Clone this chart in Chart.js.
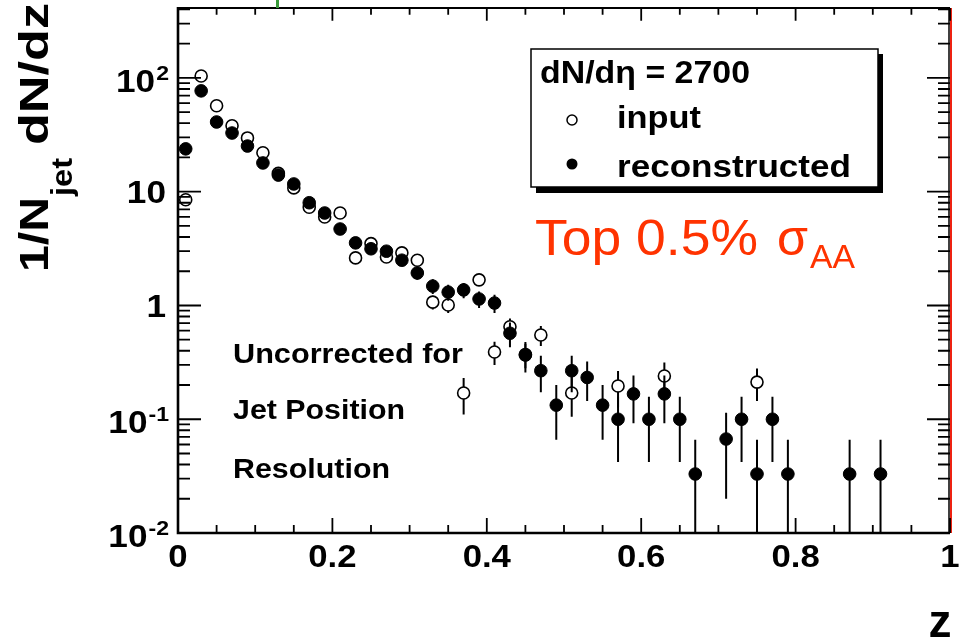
<!DOCTYPE html>
<html>
<head>
<meta charset="utf-8">
<script src="https://cdn.jsdelivr.net/npm/chart.js@4.4.1/dist/chart.umd.min.js"></script>
<style>
  html, body { margin: 0; padding: 0; background: #fff; }
  canvas { display: block; }
</style>
</head>
<body>
<canvas id="myChart" width="963" height="638"></canvas>
<script>
// bin centres in z
const zBins = [0.01, 0.03, 0.05, 0.07, 0.09, 0.11, 0.13, 0.15, 0.17, 0.19,
               0.21, 0.23, 0.25, 0.27, 0.29, 0.31, 0.33, 0.35, 0.37, 0.39,
               0.41, 0.43, 0.45, 0.47, 0.49, 0.51, 0.53, 0.55, 0.57, 0.59,
               0.61, 0.63, 0.65, 0.67, 0.69, 0.71, 0.73, 0.75, 0.77, 0.79,
               0.81, 0.83, 0.85, 0.87, 0.89, 0.91];

// input (open circles)
const inputVals = [8.5, 104, 57, 38, 29.7, 22, 14.5, 10.8, 7.3, 6.0,
                   6.5, 2.62, 3.5, 2.67, 2.9, 2.5, 1.07, 1.01, 0.17, 1.68,
                   0.39, 0.65, 0.37, 0.55, null, 0.17, null, null, 0.196, null,
                   null, 0.24, null, null, null, null, null, 0.212, null, null,
                   null, null, null, null, null, null];
const inputErr = [0.43, 1.5, 1.1, 0.9, 0.8, 0.68, 0.56, 0.48, 0.39, 0.36,
                  0.37, 0.24, 0.27, 0.24, 0.25, 0.23, 0.15, 0.15, 0.06, 0.19,
                  0.09, 0.12, 0.09, 0.11, null, 0.065, null, null, 0.07, null,
                  null, 0.075, null, null, null, null, null, 0.067, null, null,
                  null, null, null, null, null, null];

// reconstructed (filled circles)
const recoVals = [23.8, 77, 41, 32.8, 25.2, 17.9, 14.0, 11.7, 8.0, 6.5,
                  4.7, 3.55, 3.15, 3.0, 2.5, 1.93, 1.48, 1.31, 1.37, 1.14,
                  1.05, 0.57, 0.367, 0.267, 0.133, 0.267, 0.233, 0.133, 0.1, 0.167,
                  0.1, 0.167, 0.1, 0.033, null, 0.067, 0.1, 0.033, 0.1, 0.033,
                  null, null, null, 0.033, null, 0.033];
const recoErr = [0.9, 1.6, 1.2, 1.05, 0.92, 0.77, 0.68, 0.62, 0.52, 0.47,
                 0.40, 0.34, 0.32, 0.32, 0.29, 0.25, 0.22, 0.21, 0.21, 0.19,
                 0.19, 0.14, 0.11, 0.094, 0.067, 0.094, 0.088, 0.067, 0.058, 0.075,
                 0.058, 0.075, 0.058, 0.033, null, 0.047, 0.058, 0.033, 0.058, 0.033,
                 null, null, null, 0.033, null, 0.033];

const xTicks = [0, 0.2, 0.4, 0.6, 0.8, 1];
const xTickLabels = ['0', '0.2', '0.4', '0.6', '0.8', '1'];
const yTicks = [0.01, 0.1, 1, 10, 100];
const yTickLabels = [['10', '-2'], ['10', '-1'], ['1', ''], ['10', ''], ['10', '2']];

const legendTitle = 'dN/d\u03B7 = 2700';
const seriesNames = ['input', 'reconstructed'];
const noteLines = ['Uncorrected for', 'Jet Position', 'Resolution'];

function toPoints(vals, errs) {
  const pts = [];
  for (let i = 0; i < zBins.length; i++) {
    if (vals[i] === null) continue;
    pts.push({ x: zBins[i], y: vals[i], err: errs[i] });
  }
  return pts;
}

const F = '"Liberation Sans", Arial, Helvetica, sans-serif';

// draw text with horizontal stretch (sx) or fitted to width (w)
function drawText(ctx, s, x, y, font, opts) {
  opts = opts || {};
  ctx.save();
  ctx.font = font;
  const m = ctx.measureText(s).width;
  const sx = opts.w ? opts.w / m : (opts.sx || 1);
  let x0 = x;
  if (opts.align === 'center') x0 = x - m * sx / 2;
  else if (opts.align === 'right') x0 = x - m * sx;
  ctx.translate(x0, y);
  if (opts.rot) ctx.rotate(opts.rot);
  ctx.scale(sx, 1);
  ctx.textAlign = 'left';
  ctx.textBaseline = 'alphabetic';
  ctx.fillStyle = opts.color || '#000';
  ctx.fillText(s, 0, 0);
  ctx.restore();
  return m * sx;
}

const rootStyle = {
  id: 'rootStyle',
  beforeDraw(chart) {
    const ctx = chart.ctx;
    ctx.save();
    ctx.fillStyle = '#fff';
    ctx.fillRect(0, 0, chart.width, chart.height);
    ctx.restore();
  },
  beforeDatasetDraw(chart, args) {
    // vertical error bars under the markers
    const ctx = chart.ctx;
    const xs = chart.scales.x, ys = chart.scales.y;
    const area = chart.chartArea;
    const pts = chart.data.datasets[args.index].data;
    ctx.save();
    ctx.strokeStyle = '#000';
    ctx.lineWidth = 2;
    ctx.beginPath();
    pts.forEach(p => {
      if (p.err === null || p.err === undefined) return;
      const px = xs.getPixelForValue(p.x);
      const top = Math.max(area.top, ys.getPixelForValue(p.y + p.err));
      const lo = p.y - p.err;
      const bot = lo > ys.min ? ys.getPixelForValue(lo) : area.bottom;
      ctx.moveTo(px, top);
      ctx.lineTo(px, Math.min(bot, area.bottom));
    });
    ctx.stroke();
    ctx.restore();
  },
  afterDraw(chart) {
    const ctx = chart.ctx;
    const xs = chart.scales.x, ys = chart.scales.y;
    const a = chart.chartArea;
    ctx.save();

    // frame
    ctx.strokeStyle = '#000';
    ctx.lineWidth = 2;
    ctx.beginPath();
    ctx.moveTo(a.left, a.top); ctx.lineTo(a.right, a.top);
    ctx.stroke();
    ctx.lineWidth = 1.5;
    ctx.beginPath();
    ctx.moveTo(a.right - 1, a.top); ctx.lineTo(a.right - 1, a.bottom);
    ctx.stroke();
    ctx.lineWidth = 2.6;
    ctx.beginPath();
    ctx.moveTo(a.left, a.top - 1); ctx.lineTo(a.left, a.bottom);
    ctx.lineTo(a.right, a.bottom);
    ctx.stroke();
    // red right edge and green mark on top
    ctx.fillStyle = '#ee2211';
    ctx.fillRect(a.right, a.top, 2, a.bottom - a.top);
    ctx.fillStyle = '#3a9a3a';
    ctx.fillRect(276, 0, 3, a.top);

    // x ticks (bottom and top)
    ctx.strokeStyle = '#000';
    ctx.lineWidth = 1.8;
    ctx.beginPath();
    for (let i = 0; i <= 20; i++) {
      const px = xs.getPixelForValue(i * 0.05);
      const len = i % 4 === 0 ? 15 : 8;
      ctx.moveTo(px, a.bottom); ctx.lineTo(px, a.bottom - len);
      ctx.moveTo(px, a.top); ctx.lineTo(px, a.top + len * 0.85);
    }
    // y ticks (left and right)
    for (let d = -2; d <= 2; d++) {
      for (let k = 1; k <= 9; k++) {
        const v = k * Math.pow(10, d);
        if (v > ys.max) break;
        const py = ys.getPixelForValue(v);
        const len = k === 1 ? 23 : 12;
        ctx.moveTo(a.left, py); ctx.lineTo(a.left + len, py);
        ctx.moveTo(a.right, py); ctx.lineTo(a.right - len, py);
      }
    }
    ctx.stroke();

    // x tick labels
    xTicks.forEach((v, i) => {
      drawText(ctx, xTickLabels[i], xs.getPixelForValue(v), 567,
        'bold 31px ' + F, { align: 'center', sx: 1.12 });
    });
    // y tick labels
    yTicks.forEach((v, i) => {
      const py = ys.getPixelForValue(v);
      const [base, sup] = yTickLabels[i];
      if (sup) {
        const ws = drawText(ctx, sup, 169, py + 2, 'bold 21px ' + F, { align: 'right', sx: 1.1 });
        drawText(ctx, base, 169 - ws - 1, py + 14, 'bold 32px ' + F, { align: 'right', sx: 1.1 });
      } else {
        drawText(ctx, base, 166, py + 11.5, 'bold 32px ' + F, { align: 'right', sx: 1.1 });
      }
    });

    // axis titles
    drawText(ctx, 'z', 940, 637, 'bold 46px ' + F, { align: 'center' });
    ctx.save();
    ctx.translate(48, 272);
    ctx.rotate(-Math.PI / 2);
    drawText(ctx, '1/N', 0, 0, 'bold 40px ' + F, { w: 75 });
    drawText(ctx, 'jet', 76, 24, 'bold 30px ' + F, { w: 38 });
    drawText(ctx, 'dN/dz', 127, 0, 'bold 40px ' + F, { w: 142 });
    ctx.restore();

    // legend box with shadow
    ctx.fillStyle = '#000';
    ctx.fillRect(536, 54, 347, 139);
    ctx.fillStyle = '#fff';
    ctx.fillRect(531, 49, 347, 138);
    ctx.strokeStyle = '#000';
    ctx.lineWidth = 1.5;
    ctx.strokeRect(531, 49, 347, 138);
    drawText(ctx, legendTitle, 540, 83, 'bold 31px ' + F, { w: 210 });
    ctx.lineWidth = 1.5;
    ctx.beginPath();
    ctx.arc(572, 120, 5, 0, Math.PI * 2);
    ctx.fillStyle = '#fff';
    ctx.fill();
    ctx.stroke();
    ctx.beginPath();
    ctx.arc(572, 164, 5.5, 0, Math.PI * 2);
    ctx.fillStyle = '#000';
    ctx.fill();
    drawText(ctx, seriesNames[0], 617, 128, 'bold 32px ' + F, { w: 84 });
    drawText(ctx, seriesNames[1], 617, 177, 'bold 32px ' + F, { w: 234 });

    // red centrality label
    const red = '#ff3300';
    drawText(ctx, 'Top 0.5%', 535, 255, '50px ' + F, { w: 223, color: red });
    drawText(ctx, '\u03C3', 777, 255, '50px ' + F, { w: 31, color: red });
    drawText(ctx, 'AA', 810, 268, '34px ' + F, { w: 45, color: red });

    // note
    const noteY = [363, 419, 478];
    const noteW = [230, 172, 157];
    noteLines.forEach((s, i) => {
      drawText(ctx, s, 233, noteY[i], 'bold 28px ' + F, { w: noteW[i] });
    });

    ctx.restore();
  }
};

const config = {
  type: 'scatter',
  data: {
    datasets: [
      {
        label: seriesNames[0],
        data: toPoints(inputVals, inputErr),
        pointStyle: 'circle',
        pointRadius: 6,
        backgroundColor: '#fff',
        borderColor: '#000',
        borderWidth: 1.6,
        order: 1
      },
      {
        label: seriesNames[1],
        data: toPoints(recoVals, recoErr),
        pointStyle: 'circle',
        pointRadius: 6.3,
        backgroundColor: '#000',
        borderColor: '#000',
        borderWidth: 1,
        order: 0
      }
    ]
  },
  options: {
    responsive: false,
    animation: false,
    devicePixelRatio: 1,
    layout: { padding: { left: 178, right: 13, top: 8, bottom: 105 } },
    plugins: { legend: { display: false }, tooltip: { enabled: false } },
    scales: {
      x: { type: 'linear', min: 0, max: 1, display: false },
      y: { type: 'logarithmic', min: 0.01, max: 412, display: false }
    }
  },
  plugins: [rootStyle]
};

var myChart = new Chart(document.getElementById('myChart'), config);
</script>
</body>
</html>
